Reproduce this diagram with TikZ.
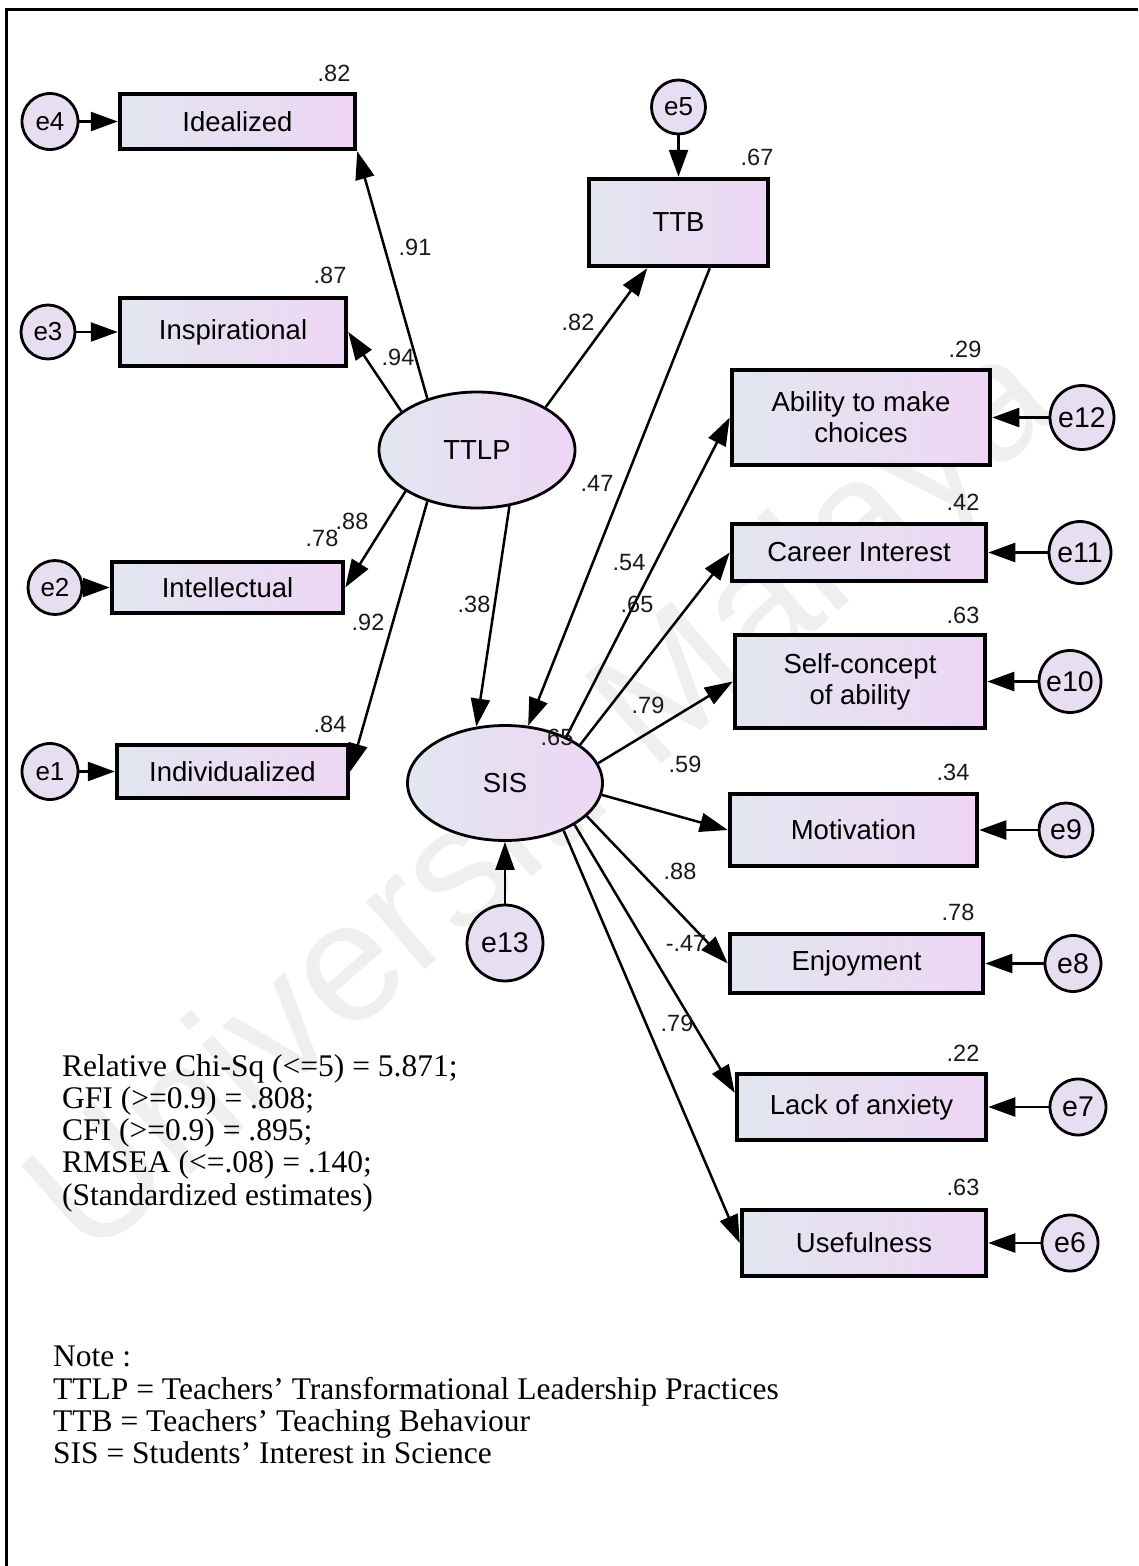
\documentclass[tikz,border=0pt]{standalone}
\usepackage{fontspec}
\setmainfont{Liberation Serif}
\newfontfamily\arialfont{Liberation Sans}
\usetikzlibrary{arrows.meta,shapes.geometric,calc}

\definecolor{boxleft}{RGB}{226,230,240}
\definecolor{boxright}{RGB}{238,214,244}
\definecolor{errfill}{RGB}{232,222,242}
\definecolor{wmgray}{RGB}{239,239,239}

\begin{document}
\begin{tikzpicture}[x=1pt,y=-1pt,
  obs/.style={draw=black,line width=4.5pt,rectangle,left color=boxleft,right color=boxright,
    font=\arialfont\fontsize{27.5}{31}\selectfont,align=center,inner sep=0pt},
  lat/.style={draw=black,line width=2.8pt,ellipse,left color=boxleft,right color=boxright,
    font=\arialfont\fontsize{27.5}{31}\selectfont,inner sep=0pt},
  err/.style={draw=black,line width=2.8pt,circle,fill=errfill,inner sep=0pt,
    font=\arialfont\fontsize{26}{28}\selectfont},
  errbig/.style={err,font=\arialfont\fontsize{28.5}{30}\selectfont},
  link/.style={line width=2.5pt,-{Triangle[length=28pt,width=19pt]}},
  elink/.style={line width=2.5pt,-{Triangle[length=27pt,width=19pt]}},
  est/.style={font=\arialfont\fontsize{23.5}{25}\selectfont,inner sep=0pt,text=black!90},
  notes/.style={anchor=north west,align=left,inner sep=0pt,font=\fontsize{31.5}{32.3}\selectfont}
]
\useasboundingbox (0,0) rectangle (1138,1566);

% faint watermark
\node[font=\arialfont\fontsize{170}{180}\selectfont,text=wmgray,rotate=41,inner sep=0pt] (wm) at (548,805) {Universiti Malaya};

% frame
\draw[line width=3pt] (6,1566) -- (6,9) -- (1138,9);

% latent variables
\node[lat,minimum width=196pt,minimum height=116pt] (ttlp) at (477,450) {TTLP};
\node[lat,minimum width=195pt,minimum height=115pt] (sis) at (505,783) {SIS};

% TTLP indicators
\node[obs,minimum width=235pt,minimum height=55pt] (ideal) at (237.5,121.5) {Idealized};
\node[obs,minimum width=226pt,minimum height=68pt] (insp) at (233,332) {Inspirational};
\node[obs,minimum width=231pt,minimum height=51pt] (intel) at (227.5,587.5) {Intellectual};
\node[obs,minimum width=231pt,minimum height=53pt] (indiv) at (232.5,771.5) {Individualized};

% mediator
\node[obs,minimum width=179pt,minimum height=87pt] (ttb) at (678.5,222.5) {TTB};

% SIS indicators
\node[obs,minimum width=258pt,minimum height=95pt] (abil) at (861,417.5) {Ability to make\\choices};
\node[obs,minimum width=254pt,minimum height=57pt] (career) at (859,552.5) {Career Interest};
\node[obs,minimum width=250pt,minimum height=93pt] (selfc) at (860,681.5) {Self-concept\\of ability};
\node[obs,minimum width=247pt,minimum height=72pt] (motiv) at (853.5,830) {Motivation};
\node[obs,minimum width=253pt,minimum height=59pt] (enjoy) at (856.5,963.5) {Enjoyment};
\node[obs,minimum width=249pt,minimum height=66pt] (lack) at (861.5,1107) {Lack of anxiety};
\node[obs,minimum width=244pt,minimum height=66pt] (useful) at (864,1243) {Usefulness};

% error terms
\node[err,minimum size=56pt] (e4) at (50,121.5) {e4};
\node[err,minimum size=54pt] (e3) at (48,332) {e3};
\node[err,minimum size=54pt] (e2) at (55,587.5) {e2};
\node[err,minimum size=56pt] (e1) at (50,771.5) {e1};
\node[err,minimum size=54pt] (e5) at (678.5,107) {e5};
\node[errbig,minimum size=64pt] (e12) at (1082,417.5) {e12};
\node[errbig,minimum size=62pt] (e11) at (1080,552.5) {e11};
\node[errbig,minimum size=62pt] (e10) at (1070,681.5) {e10};
\node[errbig,minimum size=54pt] (e9) at (1066,830) {e9};
\node[errbig,minimum size=56pt] (e8) at (1073,963.5) {e8};
\node[errbig,minimum size=56pt] (e7) at (1078,1107) {e7};
\node[errbig,minimum size=56pt] (e6) at (1070,1243) {e6};
\node[errbig,minimum size=76pt] (e13) at (505,943) {e13};

% error paths
\draw[elink] (e4) -- (ideal);
\draw[elink] (e3) -- (insp);
\draw[elink] (e2) -- (intel);
\draw[elink] (e1) -- (indiv);
\draw[elink] (e5) -- (ttb);
\draw[elink] (e12) -- (abil);
\draw[elink] (e11) -- (career);
\draw[elink] (e10) -- (selfc);
\draw[elink] (e9) -- (motiv);
\draw[elink] (e8) -- (enjoy);
\draw[elink] (e7) -- (lack);
\draw[elink] (e6) -- (useful);
\draw[link] (e13) -- (sis);

% TTLP loadings
\draw[link] (ttlp.134) -- (ideal.south east);
\draw[link] (ttlp.153) -- (insp.east);
\draw[link] (ttlp.210) -- (intel.east);
\draw[link] (ttlp.226) -- (indiv.east);

% structural paths
\draw[link] (ttlp.32) -- ($(ttb.south west)!0.33!(ttb.south east)$);
\draw[link] (ttlp.-60) -- (sis.117);
\draw[link] ($(ttb.south west)!0.67!(ttb.south east)$) -- (sis.68);

% SIS loadings
\draw[link] (sis.37) -- (abil.west);
\draw[link] (sis.27) -- (career.west);
\draw[link] (sis.12) -- (selfc.west);
\draw[link] (sis.-7) -- (motiv.west);
\draw[link] (sis.-22) -- (enjoy.west);
\draw[link] (sis.-31) -- ($(lack.north west)!0.3!(lack.south west)$);
\draw[link] (sis.-39) -- (useful.west);

% squared multiple correlations
\node[est] (rideal) at (334,73) {.82};
\node[est] (rinsp) at (330,275) {.87};
\node[est] (rintel) at (322,538) {.78};
\node[est] (rindiv) at (330,724) {.84};
\node[est] (rttb) at (757,157) {.67};
\node[est] (rsis) at (557,737) {.65};
\node[est] (rabil) at (965,349) {.29};
\node[est] (rcareer) at (963,502) {.42};
\node[est] (rselfc) at (963,615) {.63};
\node[est] (rmotiv) at (953,772) {.34};
\node[est] (renjoy) at (958,912) {.78};
\node[est] (rlack) at (963,1053) {.22};
\node[est] (ruseful) at (963,1187) {.63};

% path coefficients
\node[est] (pideal) at (415,247) {.91};
\node[est] (pinsp) at (398,357) {.94};
\node[est] (pintel) at (352,521) {.88};
\node[est] (pindiv) at (368,622) {.92};
\node[est] (pttb) at (578,322) {.82};
\node[est] (pttbsis) at (597,483) {.47};
\node[est] (pttlpsis) at (474,604) {.38};
\node[est] (pabil) at (629,563) {.54};
\node[est] (pcareer) at (637,604) {.65};
\node[est] (pselfc) at (648,705) {.79};
\node[est] (pmotiv) at (685,764) {.59};
\node[est] (penjoy) at (680,871) {.88};
\node[est] (plack) at (686,943) {-.47};
\node[est] (puseful) at (677,1023) {.79};

% fit indices
\node[notes] (fit) at (62,1054)
  {Relative Chi-Sq (<=5) = 5.871;\\
   GFI (>=0.9) = .808;\\
   CFI (>=0.9) = .895;\\
   RMSEA (<=.08) = .140;\\
   (Standardized estimates)};

% abbreviations
\node[notes] (note) at (53,1346)
  {Note :\\
   TTLP = Teachers’ Transformational Leadership Practices\\
   TTB = Teachers’ Teaching Behaviour\\
   SIS = Students’ Interest in Science};
\end{tikzpicture}
\end{document}
